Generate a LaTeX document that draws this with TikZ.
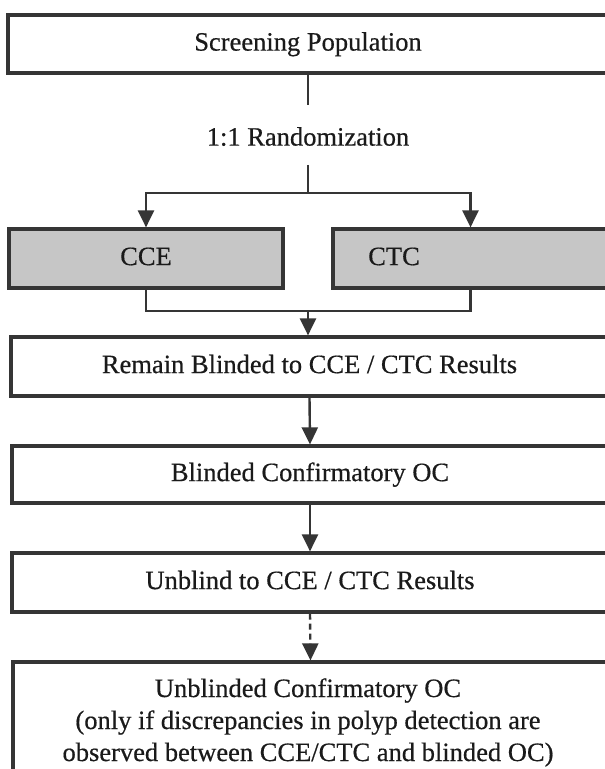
\documentclass[tikz,border=0pt]{standalone}
\usepackage{fontspec}
\setmainfont[FakeBold=0.5]{Liberation Serif}
\usetikzlibrary{arrows.meta}
\definecolor{edge}{HTML}{353535}
\definecolor{ink}{HTML}{1A1A1A}
\definecolor{boxgrey}{HTML}{C6C6C6}
\begin{document}
\begin{tikzpicture}[x=0.5pt,y=-0.5pt,
  txt/.style={font=\fontsize{13.25}{16}\selectfont, text=ink},
  box/.style={txt, draw=edge, line width=1.6pt, fill=white, inner sep=0pt, text height=0.66em, text depth=0pt},
  greybox/.style={box, fill=boxgrey},
  lbl/.style={txt, inner sep=0pt},
  conn/.style={draw=edge, line width=1.2pt},
  arr/.style={conn, -{Triangle[width=8pt,length=8.5pt]}}
]
\useasboundingbox (0,0) rectangle (604,769);
\fill[white] (0,0) rectangle (604,769);

% boxes
\node[box, minimum width=300pt, minimum height=29pt] (scr) at (308,44) {Screening Population};
\node[greybox, minimum width=137pt, minimum height=29.5pt] (cce) at (146,258.5) {CCE};
\node[greybox, minimum width=137.5pt, minimum height=29.5pt] (ctc) at (470.5,258.5) {CTC\kern76.5pt};
\node[box, minimum width=298.5pt, minimum height=29.5pt] (remain) at (309.5,366.5) {Remain Blinded to CCE / CTC Results};
\node[box, minimum width=298pt, minimum height=28.5pt] (blind) at (310,474.5) {Blinded Confirmatory OC};
\node[box, minimum width=298pt, minimum height=29.5pt] (unblind) at (310,582.5) {Unblind to CCE / CTC Results};
\node[box, minimum width=297.5pt, minimum height=64pt] (final) at (310.5,726) {};

% text of the last box
\node[lbl, anchor=base] (fin1) at (308,697) {Unblinded Confirmatory OC};
\node[lbl, anchor=base] (fin2) at (308,729) {(only if discrepancies in polyp detection are};
\node[lbl, anchor=base] (fin3) at (308,761) {observed between CCE/CTC and blinded OC)};

% randomization label
\node[lbl, text height=0.66em, text depth=0pt] (rand) at (308,139) {1:1 Randomization};

% helper coordinates
\coordinate (r1) at (308,105);
\coordinate (r2) at (308,165);
\coordinate (split) at (308,193);
\coordinate (merge) at (308,311);

% connectors
\draw[conn] (scr.south) -- (r1);
\draw[conn] (r2) -- (split);
\draw[arr] (split) -| (cce.north);
\draw[arr] (split) -| (ctc.north);
\draw[conn] (cce.south) |- (merge);
\draw[conn] (ctc.south) |- (merge);
\draw[arr] (merge) -- (merge |- remain.north);
\draw[arr] (remain.south) -- (blind.north);
\draw[arr] (blind.south) -- (unblind.north);
\draw[arr, dash pattern=on 3pt off 2pt] (unblind.south) -- (final.north);
\end{tikzpicture}
\end{document}
